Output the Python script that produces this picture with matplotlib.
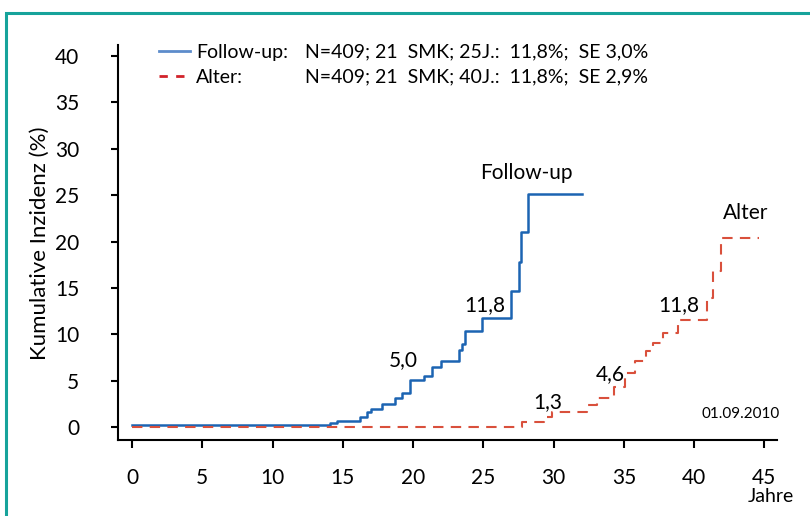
import matplotlib
matplotlib.use("Agg")
import matplotlib.pyplot as plt
from matplotlib.lines import Line2D
from matplotlib.patches import Rectangle

plt.rcParams['font.family'] = ['Lato', 'DejaVu Sans']

# ---- data ----
fu_years = [0, 14.1, 14.6, 16.25, 16.75, 17.0, 17.8, 18.7, 19.2, 19.75, 20.75,
            21.35, 22.0, 23.25, 23.5, 23.7, 24.9, 27.0, 27.55, 27.7, 28.15, 32.0]
fu_vals = [0.2, 0.4, 0.7, 1.13, 1.65, 1.97, 2.5, 3.1, 3.7, 5.03, 5.5,
           6.45, 7.15, 8.3, 9.0, 10.4, 11.8, 14.65, 17.8, 21.05, 25.1, 25.1]

alt_years = [0, 27.75, 29.3, 29.9, 32.4, 33.1, 34.3, 35.1, 35.8, 36.6, 37.1,
             37.8, 38.85, 40.9, 41.35, 41.9, 44.6]
alt_vals = [0.0, 0.57, 1.05, 1.58, 2.37, 3.1, 4.28, 5.85, 7.15, 8.23, 9.02,
            10.1, 11.54, 13.94, 16.82, 20.35, 20.35]

x_ticks = [0, 5, 10, 15, 20, 25, 30, 35, 40, 45]
y_ticks = [0, 5, 10, 15, 20, 25, 30, 35, 40]

legend_labels = ["Follow-up:", "Alter:"]
legend_stats = ["N=409; 21  SMK; 25J.:  11,8%;  SE 3,0%",
                "N=409; 21  SMK; 40J.:  11,8%;  SE 2,9%"]

# annotations: (text, x, y)
annotations = [("5,0", 19.3, 7.2), ("11,8", 25.07, 13.15), ("Follow-up", 28.06, 27.4),
               ("1,3", 29.56, 2.64), ("4,6", 34.05, 5.66), ("11,8", 38.9, 13.2),
               ("Alter", 43.7, 23.1)]
date_text = "01.09.2010"

BLUE = "#1c64b2"
RED = "#d9503c"

W, H = 810, 516
fig = plt.figure(figsize=(W / 100, H / 100), dpi=100)

# teal frame
fig.patches.append(Rectangle((6 / W, -0.1), 1.2, (H - 13) / H + 0.1, transform=fig.transFigure,
                             fill=False, edgecolor="#17a39b", linewidth=2.2))

ax = fig.add_axes([118 / W, (H - 440) / H, 659 / W, 395 / H])
ax.set_xlim(-1.0, 45.9)
ax.set_ylim(-1.4, 41.2)

ax.step(fu_years, fu_vals, where='post', color=BLUE, linewidth=1.8)
ax.step(alt_years, alt_vals, where='post', color=RED, linewidth=1.5,
        linestyle=(0, (5, 3.5)))

for s in ['top', 'right']:
    ax.spines[s].set_visible(False)
for s in ['left', 'bottom']:
    ax.spines[s].set_linewidth(1.5)
    ax.spines[s].set_color('black')

ax.set_xticks(x_ticks)
ax.set_yticks(y_ticks)
ax.tick_params(axis='x', direction='out', length=6, width=1.5, pad=14, labelsize=15)
ax.tick_params(axis='y', direction='out', length=5, width=1.5, pad=23, labelsize=15)

for t, x, y in annotations:
    ax.text(x, y, t, ha='center', va='center', fontsize=15)
ax.text(43.3, 1.4, date_text, ha='center', va='center', fontsize=11)

fig.text(771 / W, 1 - 497 / H, "Jahre", ha='center', va='center', fontsize=14)
fig.text(40 / W, 1 - 243 / H, "Kumulative Inzidenz (%)", ha='center', va='center',
         rotation=90, fontsize=16)

handles = [Line2D([], [], color="#5d8ccb", linewidth=2),
           Line2D([], [], color="#d2232a", linewidth=2, linestyle=(0, (3, 3)))]
fig.legend(handles, legend_labels, loc='upper left', bbox_to_anchor=(159 / W, 1 - 44 / H),
           frameon=False, fontsize=14, handlelength=1.6, handletextpad=0.3,
           labelspacing=0.42, borderpad=0, borderaxespad=0)
fig.text(305 / W, 1 - 52 / H, legend_stats[0], ha='left', va='center', fontsize=14)
fig.text(305 / W, 1 - 77 / H, legend_stats[1], ha='left', va='center', fontsize=14)

fig.savefig("out.png", dpi=100)
